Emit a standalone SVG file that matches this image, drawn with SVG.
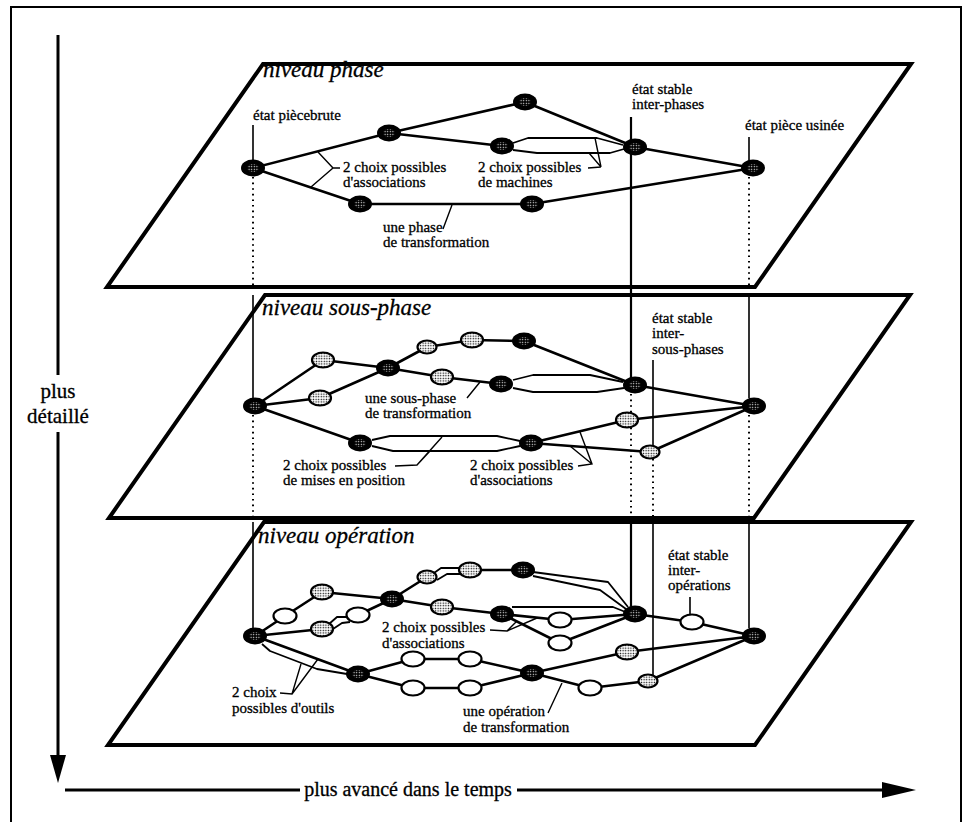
<svg xmlns="http://www.w3.org/2000/svg" xmlns:xlink="http://www.w3.org/1999/xlink" width="969" height="822" viewBox="0 0 969 822">
<style>
.fr{fill:none;stroke:#000;stroke-width:2}
.pl{fill:none;stroke:#000;stroke-width:4;stroke-linejoin:miter}
.e{fill:none;stroke:#000;stroke-width:2.6;stroke-linecap:round}
.e2{fill:none;stroke:#000;stroke-width:1.8;stroke-linejoin:round}
.ld{fill:none;stroke:#000;stroke-width:1.4}
.vs{fill:none;stroke:#000;stroke-width:1.6}
.vh{fill:none;stroke:#000;stroke-width:2.2}
.vd{fill:none;stroke:#000;stroke-width:2;stroke-dasharray:1.6 4}
.ax{fill:none;stroke:#000;stroke-width:3}
.t{font-family:"Liberation Serif","Times New Roman",serif;font-size:15px;fill:#000;stroke:#000;stroke-width:0.3}
.lv{font-family:"Liberation Serif","Times New Roman",serif;font-size:23px;font-style:italic;fill:#000;stroke:#000;stroke-width:0.3}
.big{font-family:"Liberation Serif","Times New Roman",serif;font-size:21px;fill:#000;stroke:#000;stroke-width:0.3}
.mid{text-anchor:middle}
</style>
<defs>
<pattern id="wd" width="2.6" height="2.6" patternUnits="userSpaceOnUse"><circle cx="1.3" cy="1.3" r="0.65" fill="#fff"/></pattern>
<pattern id="bd" width="2.6" height="2.6" patternUnits="userSpaceOnUse"><rect width="2.6" height="2.6" fill="#fff"/><circle cx="1.3" cy="1.3" r="0.75" fill="#000"/></pattern>
<g id="D"><ellipse rx="12" ry="8.5" fill="#000"/><ellipse rx="6" ry="4" fill="url(#wd)"/></g>
<g id="L"><ellipse rx="11" ry="7.5" fill="url(#bd)" stroke="#000" stroke-width="2.2"/></g>
<g id="Ls"><ellipse rx="9.5" ry="6.5" fill="url(#bd)" stroke="#000" stroke-width="2.2"/></g>
<g id="O"><ellipse rx="11.5" ry="7.5" fill="#fff" stroke="#000" stroke-width="2.2"/></g>
</defs>
<rect width="969" height="822" fill="#fff"/>
<path class="fr" d="M11,822 V7 H961 V822"/>

<g id="axes">
<path class="ax" d="M58,35 V375 M58,432 V758"/>
<polygon points="50,755 66,755 58,783" fill="#000"/>
<text class="big mid" x="58" y="398">plus</text>
<text class="big mid" x="58" y="423">détaillé</text>
<path class="ax" d="M65,790 H300 M517,790 H884"/>
<polygon points="882,782 882,798 916,790" fill="#000"/>
<text class="t mid" x="408" y="796" style="font-size:20px">plus avancé dans le temps</text>
</g>

<g id="planes">
<path id="plane-phase" class="pl" d="M263,64 H911 L755,287 H107 Z"/>
<path id="plane-sousphase" class="pl" d="M265,295 H910 L754,518 H109 Z"/>
<path id="plane-operation" class="pl" d="M264,522 H911 L755,745 H108 Z"/>
</g>

<g id="connectors">
<path class="e" d="M253,168 L389,133 M389,133 L525,102 M389,133 L502,146 M253,168 L360,204 M360,204 L532,204 M525,102 L635,147 M532,204 L753,168 M635,147 L753,168"/>
<path class="e2" d="M513,143 L528,138 L597,138 L623,145 M513,150 L537,153 L610,153 L624,149"/>
<path class="e" d="M255,406 L323,360 M323,360 L388,368 M255,406 L320,398 M320,398 L388,368 M388,368 L427,347 M427,347 L472,340 M472,340 L524,341 M524,341 L635,385 M388,368 L442,377 M442,377 L501,384 M255,406 L360,443 M531,443 L627,420 M531,443 L650,452 M627,420 L754,406 M650,452 L754,406 M635,385 L754,406"/>
<path class="e2" d="M513,380 L533,375 L590,375 L623,382 M513,388 L533,392 L597,392 L624,388 M372,440 L390,436 L497,436 L520,441 M372,446 L393,451 L497,451 L520,446"/>
<path class="e" d="M255,636 L285,616 M285,616 L322,592 M322,592 L392,599 M255,636 L322,629 M358,615 L392,599 M392,599 L427,577 M470,570 L523,570 M392,599 L442,607 M442,607 L502,614 M502,614 L560,620 M560,620 L635,614 M502,614 L560,643 M560,643 L635,614 M635,614 L692,622 M692,622 L754,636 M255,636 L358,674 M358,674 L413,659 M413,659 L470,659 M470,659 L532,673 M358,674 L413,688 M413,688 L470,688 M470,688 L532,673 M532,673 L627,652 M627,652 L754,636 M532,673 L590,688 M590,688 L648,681 M648,681 L754,636"/>
<path class="e2" d="M329,624 L337,617 L348,617 M333,629 L342,623 L350,622 M434,573 L441,568 L460,568 M437,580 L447,574 L462,574 M533,572 L608,582 L628,607 M533,576 L600,590 L626,609 M512,607 L613,607 L628,613 M262,644 L270,651 L317,669 L347,674"/>
<path class="vs" d="M253,125 V160 M253,295 V398 M253,522 V628 M749,137 V160 M749,295 V398 M749,522 V628 M653,360 V446 M653,522 V675 M690,597 V615"/>
<path class="vh" d="M631,117 V378 M631,522 V606"/>
<path class="vd" d="M253,177 V287 M253,415 V518 M749,177 V287 M749,415 V518 M631,394 V518 M653,459 V518"/>
<path class="ld" d="M333,168 L318,152 M333,168 L311,187 M333,168 L340,168 M595,138 L601,167 M589,153 L601,167 M588,168 L601,167 M443,229 L452,205 M467,398 L480,382 M395,466 L417,465 L442,437 M417,465 L430,451 M578,466 L592,464 L580,432 M592,464 L570,446 M490,630 L507,631 L517,621 M507,631 L537,618 M280,693 L292,694 L301,664 M292,694 L318,659 M548,713 L562,683"/>
</g>

<g id="nodes-phase">
<g id="p-start"><use xlink:href="#D" x="253" y="168"/></g>
<g id="p-a"><use xlink:href="#D" x="389" y="133"/></g>
<g id="p-b"><use xlink:href="#D" x="525" y="102"/></g>
<g id="p-c"><use xlink:href="#D" x="502" y="146"/></g>
<g id="p-d"><use xlink:href="#D" x="360" y="204"/></g>
<g id="p-e"><use xlink:href="#D" x="532" y="204"/></g>
<g id="p-hub"><use xlink:href="#D" x="635" y="147"/></g>
<g id="p-end"><use xlink:href="#D" x="753" y="168"/></g>
</g>
<g id="nodes-sousphase">
<g id="s-start"><use xlink:href="#D" x="255" y="406"/></g>
<g id="s-l1"><use xlink:href="#L" x="323" y="360"/></g>
<g id="s-l2"><use xlink:href="#L" x="320" y="398"/></g>
<g id="s-a"><use xlink:href="#D" x="388" y="368"/></g>
<g id="s-l3"><use xlink:href="#Ls" x="427" y="347"/></g>
<g id="s-l4"><use xlink:href="#L" x="472" y="340"/></g>
<g id="s-b"><use xlink:href="#D" x="524" y="341"/></g>
<g id="s-l5"><use xlink:href="#L" x="442" y="377"/></g>
<g id="s-c"><use xlink:href="#D" x="501" y="384"/></g>
<g id="s-hub"><use xlink:href="#D" x="635" y="385"/></g>
<g id="s-end"><use xlink:href="#D" x="754" y="406"/></g>
<g id="s-d"><use xlink:href="#D" x="360" y="443"/></g>
<g id="s-e"><use xlink:href="#D" x="531" y="443"/></g>
<g id="s-l6"><use xlink:href="#L" x="627" y="420"/></g>
<g id="s-l7"><use xlink:href="#Ls" x="650" y="452"/></g>
</g>
<g id="nodes-operation">
<g id="o-start"><use xlink:href="#D" x="255" y="636"/></g>
<g id="o-o1"><use xlink:href="#O" x="285" y="616"/></g>
<g id="o-l1"><use xlink:href="#L" x="322" y="592"/></g>
<g id="o-l2"><use xlink:href="#L" x="322" y="629"/></g>
<g id="o-o2"><use xlink:href="#O" x="358" y="615"/></g>
<g id="o-a"><use xlink:href="#D" x="392" y="599"/></g>
<g id="o-l3"><use xlink:href="#Ls" x="427" y="577"/></g>
<g id="o-l4"><use xlink:href="#L" x="470" y="570"/></g>
<g id="o-b"><use xlink:href="#D" x="523" y="570"/></g>
<g id="o-l5"><use xlink:href="#L" x="442" y="607"/></g>
<g id="o-c"><use xlink:href="#D" x="502" y="614"/></g>
<g id="o-o3"><use xlink:href="#O" x="560" y="620"/></g>
<g id="o-o4"><use xlink:href="#O" x="560" y="643"/></g>
<g id="o-hub"><use xlink:href="#D" x="635" y="614"/></g>
<g id="o-o5"><use xlink:href="#O" x="692" y="622"/></g>
<g id="o-end"><use xlink:href="#D" x="754" y="636"/></g>
<g id="o-d"><use xlink:href="#D" x="358" y="674"/></g>
<g id="o-o8"><use xlink:href="#O" x="413" y="659"/></g>
<g id="o-o9"><use xlink:href="#O" x="470" y="659"/></g>
<g id="o-o10"><use xlink:href="#O" x="413" y="688"/></g>
<g id="o-o11"><use xlink:href="#O" x="470" y="688"/></g>
<g id="o-e"><use xlink:href="#D" x="532" y="673"/></g>
<g id="o-l6"><use xlink:href="#L" x="627" y="652"/></g>
<g id="o-o7"><use xlink:href="#O" x="590" y="688"/></g>
<g id="o-l7"><use xlink:href="#Ls" x="648" y="681"/></g>
</g>

<g id="labels">
<text class="lv" x="263" y="77">niveau phase</text>
<text class="t" x="253" y="120">état piècebrute</text>
<text class="t" x="632" y="94">état stable</text>
<text class="t" x="632" y="109">inter-phases</text>
<text class="t" x="745" y="130">état pièce usinée</text>
<text class="t" x="343" y="172">2 choix possibles</text>
<text class="t" x="343" y="187">d'associations</text>
<text class="t" x="478" y="172">2 choix possibles</text>
<text class="t" x="478" y="187">de machines</text>
<text class="t" x="383" y="232">une phase</text>
<text class="t" x="383" y="247">de transformation</text>

<text class="lv" x="262" y="315">niveau sous-phase</text>
<text class="t" x="365" y="403">une sous-phase</text>
<text class="t" x="365" y="418">de transformation</text>
<text class="t" x="283" y="470">2 choix possibles</text>
<text class="t" x="283" y="485">de mises en position</text>
<text class="t" x="470" y="470">2 choix possibles</text>
<text class="t" x="470" y="485">d'associations</text>
<text class="t" x="652" y="323">état stable</text>
<text class="t" x="652" y="338">inter-</text>
<text class="t" x="652" y="354">sous-phases</text>

<text class="lv" x="258" y="543">niveau opération</text>
<text class="t" x="382" y="632">2 choix possibles</text>
<text class="t" x="382" y="648">d'associations</text>
<text class="t" x="232" y="697">2 choix</text>
<text class="t" x="232" y="713">possibles d'outils</text>
<text class="t" x="463" y="716">une opération</text>
<text class="t" x="463" y="732">de transformation</text>
<text class="t" x="668" y="560">état stable</text>
<text class="t" x="668" y="575">inter-</text>
<text class="t" x="668" y="590">opérations</text>
</g>
</svg>
